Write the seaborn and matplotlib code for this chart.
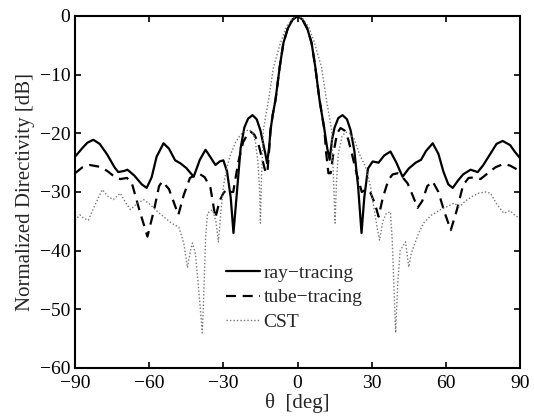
import numpy as np
import seaborn as sns
import matplotlib
matplotlib.use("Agg")
import matplotlib.pyplot as plt

# --- data (theta in deg, normalized directivity in dB) ---
ray_theta = [-90, -87, -85, -82.6, -80, -77, -74, -72.5, -70, -68.8, -66, -63, -61, -59, -57,
             -54.2, -52, -49.5, -47.4, -45, -42, -39.5, -37.2, -35, -33.2, -31.5, -30, -28.5,
             -27, -25.9, -24.5, -23, -21.5, -20, -18.2, -16.5, -15, -14, -13, -12.3, -11.5,
             -10.9, -10, -8.9, -7.2, -5.7, -4, -2, 0,
             2, 4, 5.7, 7.2, 8.9, 10.9, 12, 13, 14, 15, 16.5, 18.2, 20, 21.5, 23, 24.5, 25.9,
             27, 28.5, 30.4, 32.8, 35, 37.6, 40, 42.5, 45, 47.8, 50, 52, 54.7, 57, 59, 61,
             62.8, 65, 67, 70, 72.9, 75, 78, 80.5, 83, 86, 88, 90]
ray_db = [-24.0, -22.5, -21.6, -21.1, -21.8, -23.6, -25.8, -26.6, -26.4, -26.2, -27.2, -28.7,
          -29.3, -27.5, -24.0, -21.7, -22.6, -24.6, -25.1, -25.9, -27.4, -24.5, -22.8, -24.2,
          -25.4, -24.8, -24.6, -26.5, -31.0, -37.0, -30.0, -22.5, -19.0, -17.5, -16.9, -17.6,
          -19.5, -21.5, -23.5, -25.1, -22.5, -19.4, -16.8, -14.3, -8.7, -4.6, -2.2, -0.6, 0.0,
          -0.6, -2.2, -4.6, -8.7, -14.3, -19.4, -22.5, -24.5, -21.0, -19.0, -17.4, -16.9,
          -17.6, -19.5, -23.0, -29.0, -37.0, -31.0, -26.0, -24.8, -25.0, -23.8, -23.1, -25.0,
          -27.4, -26.0, -25.0, -24.5, -23.0, -21.7, -23.5, -26.5, -28.7, -29.3, -28.0, -27.0,
          -26.2, -26.6, -25.5, -23.5, -21.8, -21.3, -22.0, -23.2, -24.2]

tube_theta = [-90, -87, -84, -80, -77, -74, -71.7, -69, -67, -64, -60.7, -58, -56, -54.7, -52,
              -50, -48.2, -46, -43.5, -40, -37.5, -35.2, -33.2, -31.5, -30, -28.5, -27, -26,
              -24, -22, -20, -19, -17.5, -16, -14.5, -13, -12.2, -11.5, -10.9, -10, -8.9, -7.2,
              -5.7, -4, -2, 0,
              2, 4, 5.7, 7.2, 8.9, 10.9, 11.5, 12.5, 13.4, 14.5, 16, 17.4, 19, 20.5, 22, 24, 26,
              28, 29.6, 31.3, 32.8, 34.5, 36.8, 38.5, 40.5, 42.5, 44.5, 46.5, 48.6, 50.5, 52.5,
              54.7, 57, 59.5, 62, 64.5, 67, 69.2, 72, 74, 77, 80, 83.4, 86, 89, 90]
tube_db = [-26.8, -25.8, -25.4, -25.7, -26.4, -27.4, -27.8, -27.6, -28.5, -33.0, -37.6, -33.0,
           -29.0, -28.2, -29.5, -31.8, -33.9, -30.5, -27.6, -26.8, -27.5, -29.3, -34.4, -31.5,
           -30.2, -29.5, -30.0, -30.0, -25.0, -21.5, -20.0, -19.7, -20.2, -21.5, -24.0, -26.5,
           -26.8, -23.0, -19.4, -16.8, -14.3, -8.7, -4.6, -2.2, -0.6, 0.0,
           -0.6, -2.2, -4.6, -8.7, -14.3, -19.4, -23.0, -26.8, -26.8, -23.5, -20.0, -19.1,
           -19.5, -21.0, -23.5, -27.0, -30.0, -29.5, -30.2, -32.0, -34.2, -31.0, -27.9, -27.0,
           -26.8, -27.5, -28.5, -30.5, -32.7, -31.5, -29.0, -28.2, -30.0, -33.5, -36.5, -33.0,
           -28.8, -27.6, -27.5, -27.8, -26.8, -25.8, -25.2, -25.5, -26.2, -26.7]

cst_theta = [-90, -88, -86.5, -84.6, -82, -79, -76.5, -74.5, -71.7, -69.5, -67.6, -65, -62.3,
             -60, -57, -54.2, -51, -48, -46, -44.5, -43.3, -42.5, -41.3, -40.3, -39.3, -38.5,
             -37.8, -37.2, -36.4, -34.4, -33, -32, -31, -30, -28.5, -27, -25, -23, -21, -19.5,
             -18, -17, -16, -15.3, -15, -14.6, -13.8, -11.7, -9.7, -6.9, -4.5, -2, 0,
             2, 4.5, 6.9, 9.7, 11.7, 13.8, 14.6, 15.2, 15.8, 16.5, 18, 19.5, 21, 23, 25, 27.5,
             29.5, 31, 32.4, 33.2, 34.5, 36, 37.6, 38.3, 39, 39.7, 40.5, 41.5, 43.7, 45, 46,
             47, 49, 51, 54, 57.9, 60.5, 63.2, 65.5, 68, 70.5, 73.3, 76, 78.1, 80.5, 83.4, 86,
             88, 90]
cst_db = [-34.8, -33.9, -34.5, -34.8, -32.3, -29.6, -30.8, -31.3, -30.2, -31.8, -33.0, -32.0,
          -31.3, -32.0, -33.2, -34.2, -35.3, -36.0, -38.7, -42.9, -40.0, -38.7, -40.5, -45.0,
          -50.0, -54.0, -46.0, -38.0, -33.6, -33.0, -35.0, -38.5, -33.5, -29.1, -25.7, -23.5,
          -21.5, -20.2, -19.6, -19.4, -20.0, -21.5, -25.0, -30.0, -35.3, -28.0, -19.4, -14.3,
          -8.7, -4.6, -1.8, -0.4, 0.0,
          -0.4, -1.8, -4.6, -8.7, -14.3, -19.4, -28.0, -35.3, -28.0, -23.5, -20.5, -19.8,
          -20.0, -21.0, -23.5, -25.7, -29.0, -33.0, -36.5, -38.2, -35.0, -33.6, -33.4, -38.0,
          -46.0, -54.0, -46.0, -40.0, -38.5, -42.8, -40.5, -39.3, -37.0, -35.3, -34.0, -33.0,
          -32.5, -31.9, -32.5, -31.5, -30.8, -30.2, -30.0, -30.2, -32.0, -33.6, -33.2, -34.0,
          -34.5]

x_ticks = [-90, -60, -30, 0, 30, 60, 90]
y_ticks = [-60, -50, -40, -30, -20, -10, 0]

sns.set_style("ticks")
plt.rcParams["font.family"] = ["Liberation Serif", "DejaVu Serif"]
plt.rcParams["font.size"] = 14
plt.rcParams["xtick.direction"] = "in"
plt.rcParams["ytick.direction"] = "in"

fig = plt.figure(figsize=(5.34, 4.17), dpi=100)
ax = fig.add_axes([75 / 534, 49 / 417, 445 / 534, 352 / 417])

sns.lineplot(x=ray_theta, y=ray_db, ax=ax, color="black", lw=1.6,
             linestyle="-", label="ray\u2212tracing")
sns.lineplot(x=tube_theta, y=tube_db, ax=ax, color="black", lw=1.6,
             linestyle=(0, (4.5, 3)), label="tube\u2212tracing")
sns.lineplot(x=cst_theta, y=cst_db, ax=ax, color="#777777", lw=1.0,
             linestyle=(0, (1, 1.5)), label="CST")

ax.set_xlim(-90, 90)
ax.set_ylim(-60, 0)
ax.set_xticks(x_ticks)
ax.set_yticks(y_ticks)
ax.tick_params(axis="both", labelsize=14, width=1.2, length=4, top=True, right=True,
               colors="black")
ax.tick_params(axis="x", pad=5)
for s in ax.spines.values():
    s.set_linewidth(1.5)
    s.set_color("black")

ax.set_xlabel("\u03b8  [deg]", fontsize=15, labelpad=1)
ax.set_ylabel("Normalized Directivity [dB]", fontsize=15, labelpad=3)

ax.legend(loc="upper left", bbox_to_anchor=(0.317, 0.322), frameon=False, fontsize=14,
          handlelength=1.75, handletextpad=0.2, labelspacing=0.35, borderpad=0)

fig.savefig("out.png", dpi=100)
